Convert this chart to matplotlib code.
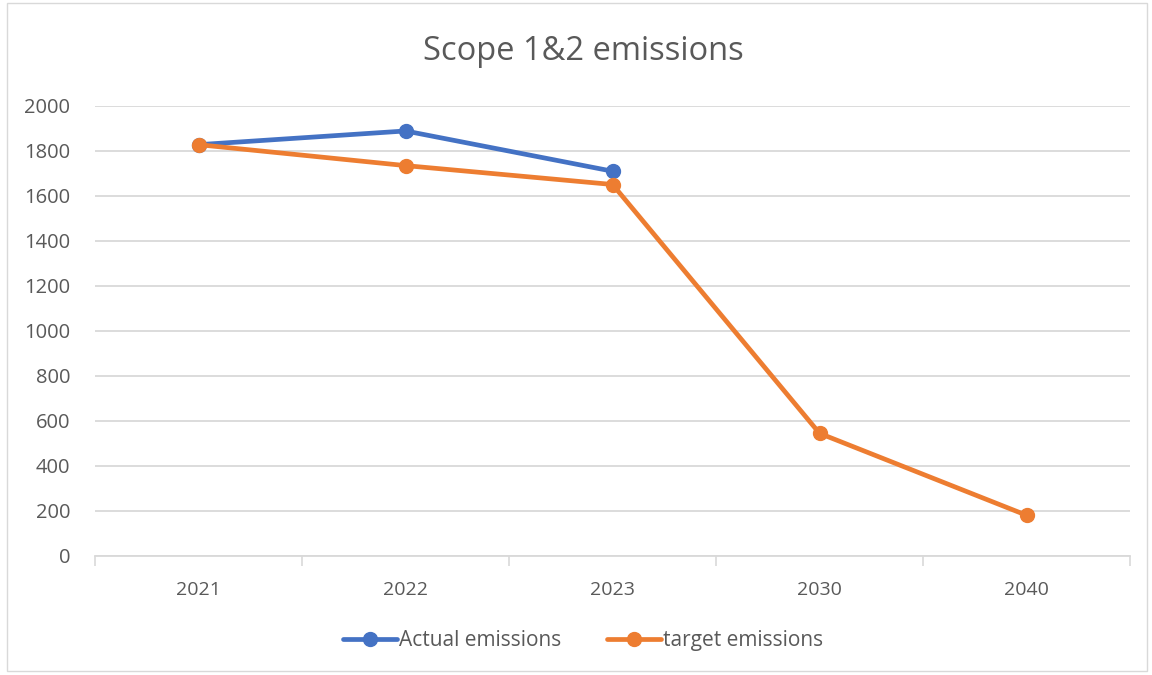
import matplotlib
matplotlib.use("Agg")
import matplotlib.pyplot as plt
from matplotlib.patches import Rectangle

categories = ["2021", "2022", "2023", "2030", "2040"]
actual = [1828, 1889, 1710]
target = [1828, 1735, 1651, 545, 181]
yticks = [0, 200, 400, 600, 800, 1000, 1200, 1400, 1600, 1800, 2000]

plt.rcParams['font.family'] = ['Open Sans', 'DejaVu Sans']
txt = '#595959'

fig = plt.figure(figsize=(11.52, 6.75), dpi=100)
fig.patches.append(Rectangle((0.006, 0.006), 0.99, 0.99, transform=fig.transFigure,
                             fill=False, edgecolor='#D9D9D9', linewidth=1))
ax = fig.add_axes([0.0825, 0.1763, 0.8985, 0.6667])

x_all = list(range(len(categories)))
ax.plot(x_all[:len(actual)], actual, color='#4472C4', linewidth=3.4, marker='o',
        markersize=10, label='Actual emissions', solid_capstyle='round', zorder=3)
ax.plot(x_all, target, color='#ED7D31', linewidth=3.4, marker='o',
        markersize=10, label='target emissions', solid_capstyle='round', zorder=4)

ax.set_xlim(-0.5, len(categories) - 0.5)
ax.set_ylim(0, 2000)
ax.set_yticks(yticks)
ax.set_yticklabels([str(v) for v in yticks])
ax.set_xticks(x_all)
ax.set_xticklabels(categories)
ax.set_xticks([i - 0.5 for i in range(len(categories) + 1)], minor=True)
ax.tick_params(axis='x', which='major', length=0, pad=18, labelsize=14, labelcolor=txt)
ax.tick_params(axis='x', which='minor', length=7, color='#D9D9D9', width=1.2)
ax.tick_params(axis='y', length=0, pad=18, labelsize=14.5, labelcolor=txt)
ax.grid(axis='y', color='#D9D9D9', linewidth=1.3)
ax.set_axisbelow(True)
for s in ['top', 'right', 'left']:
    ax.spines[s].set_visible(False)
ax.spines['bottom'].set_color('#D9D9D9')
ax.spines['bottom'].set_linewidth(1.3)

fig.text(0.506, 0.924, 'Scope 1&2 emissions', ha='center', va='center',
         fontsize=23.5, color=txt)

leg = fig.legend(loc='center', bbox_to_anchor=(0.506, 0.051), ncol=2, frameon=False,
                 fontsize=15, handlelength=2.6, handletextpad=0.1, columnspacing=2.2)
for t in leg.get_texts():
    t.set_color(txt)

fig.savefig('out.png', dpi=100)
